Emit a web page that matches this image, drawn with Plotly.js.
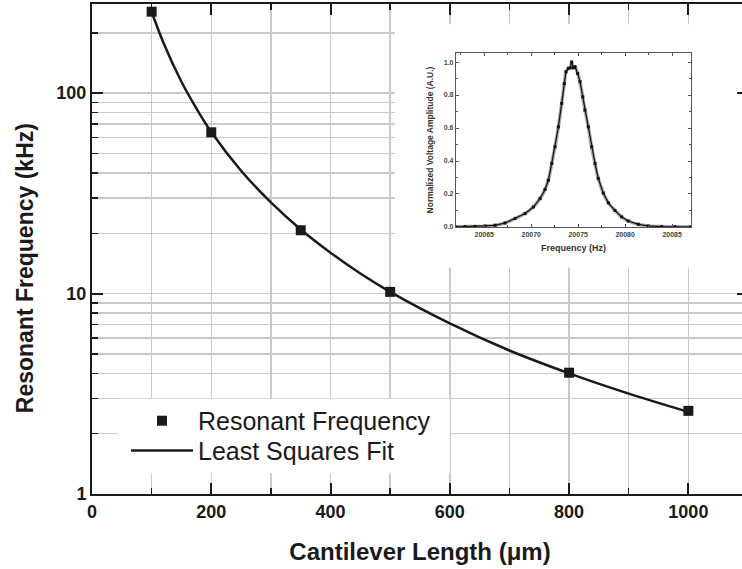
<!DOCTYPE html>
<html>
<head>
<meta charset="utf-8">
<script src="https://cdn.plot.ly/plotly-3.0.1.min.js"></script>
<style>
html,body{margin:0;padding:0;overflow:hidden;background:#fff;}
#chart{width:756px;height:569px;}
</style>
</head>
<body>
<div id="chart"></div>
<script>
// Main data: cantilever length (um) vs resonant frequency (kHz)
const lengths = [100, 200, 350, 500, 800, 1000];
const freqs = [255, 63.8, 20.7, 10.2, 4.03, 2.60];

// Least squares fit curve
const fitLengths = [100, 120, 150, 175, 200, 250, 300, 350, 400, 450, 500, 600, 700, 800, 900, 1000];
const fitFreqs = [255, 178, 114, 84, 64, 41, 28.5, 20.9, 16.0, 12.6, 10.2, 7.1, 5.2, 4.0, 3.17, 2.57];

// Inset: normalized voltage amplitude vs frequency (Hz)
const insetFreq = [20062.0, 20062.96, 20064.02, 20065.09, 20066.15, 20067.21, 20068.28, 20069.34,
  20070.23, 20070.94, 20071.47, 20071.82, 20072.18, 20072.53, 20072.89, 20073.24, 20073.52,
  20073.70, 20073.95, 20074.15, 20074.30, 20074.48, 20074.66, 20074.94, 20075.19, 20075.48,
  20075.72, 20076.08, 20076.43, 20076.79, 20077.14, 20077.67, 20078.21, 20078.91, 20079.62,
  20080.33, 20081.40, 20082.46, 20083.88, 20085.30, 20087.0];
const insetAmp = [0.0, 0.002, 0.003, 0.005, 0.010, 0.024, 0.051, 0.081,
  0.121, 0.172, 0.227, 0.283, 0.385, 0.486, 0.607, 0.749, 0.870,
  0.941, 0.962, 0.965, 1.0, 0.965, 0.972, 0.931, 0.881, 0.789,
  0.709, 0.607, 0.486, 0.385, 0.294, 0.206, 0.146, 0.100, 0.061,
  0.036, 0.016, 0.006, 0.002, 0.001, 0.0];

// Tick labels
const xTickVals = [0, 200, 400, 600, 800, 1000];
const yTickVals = [1, 10, 100];
const insetXTicks = [20065, 20070, 20075, 20080, 20085];

const FONT = '"Liberation Sans", Arial, Helvetica, sans-serif';
const DARK = '#1a1a1a';
const GRID = '#cacaca';

const traces = [
  {
    x: fitLengths, y: fitFreqs, type: 'scatter', mode: 'lines',
    name: 'Least Squares Fit', legend: 'legend2',
    line: {color: DARK, width: 2.5, shape: 'spline'},
    xaxis: 'x', yaxis: 'y'
  },
  {
    x: lengths, y: freqs, type: 'scatter', mode: 'markers',
    name: 'Resonant Frequency', legend: 'legend',
    marker: {symbol: 'square', size: 10, color: DARK},
    xaxis: 'x', yaxis: 'y'
  },
  {
    x: insetFreq, y: insetAmp, type: 'scatter', mode: 'lines',
    line: {color: '#a8a8a8', width: 3.5, shape: 'spline'},
    xaxis: 'x2', yaxis: 'y2', showlegend: false
  },
  {
    x: insetFreq, y: insetAmp, type: 'scatter', mode: 'lines+markers',
    line: {color: '#111', width: 1.2},
    marker: {symbol: 'square', size: 3, color: '#111'},
    xaxis: 'x2', yaxis: 'y2', showlegend: false
  }
];

const legendCommon = {
  xanchor: 'left', yanchor: 'top', itemwidth: 62,
  bgcolor: 'rgba(0,0,0,0)', borderwidth: 0,
  font: {family: FONT, size: 25, color: DARK}
};

const layout = {
  width: 756, height: 569,
  margin: {l: 92, r: 8, t: 4, b: 75},
  paper_bgcolor: '#fff', plot_bgcolor: '#fff',
  font: {family: FONT, color: DARK},
  showlegend: true,
  legend: Object.assign({x: 0.0518, y: 0.196}, legendCommon),
  legend2: Object.assign({x: 0.0518, y: 0.135}, legendCommon),
  xaxis: {
    range: [0, 1100], tickvals: xTickVals, ticktext: xTickVals.map(String),
    showline: true, linecolor: DARK, linewidth: 2, mirror: 'ticks',
    ticks: 'inside', ticklen: 11, tickwidth: 2, tickcolor: DARK,
    showgrid: true, gridcolor: GRID, gridwidth: 1.5, zeroline: false,
    tickfont: {family: FONT, size: 18, weight: 'bold', color: DARK},
    minor: {dtick: 100, tick0: 0, ticks: 'inside', ticklen: 6, tickwidth: 1.5, tickcolor: DARK,
            showgrid: true, gridcolor: GRID, gridwidth: 1.5},
    title: {text: 'Cantilever Length (μm)', font: {family: FONT, size: 24, weight: 'bold', color: DARK}, standoff: 23}
  },
  yaxis: {
    type: 'log', range: [0, 2.445], tickvals: yTickVals, ticktext: yTickVals.map(String),
    showline: true, linecolor: DARK, linewidth: 2, mirror: 'ticks',
    ticks: 'inside', ticklen: 11, tickwidth: 2, tickcolor: DARK,
    showgrid: true, gridcolor: GRID, gridwidth: 1.5, zeroline: false,
    tickfont: {family: FONT, size: 18, weight: 'bold', color: DARK},
    minor: {dtick: 'D1', ticks: 'inside', ticklen: 6, tickwidth: 1.5, tickcolor: DARK,
            showgrid: true, gridcolor: GRID, gridwidth: 1.5}
  },
  xaxis2: {
    domain: [0.555, 0.913], anchor: 'y2', range: [20062, 20087],
    tickvals: insetXTicks, ticktext: insetXTicks.map(String),
    showline: true, linecolor: '#555', linewidth: 1.2, mirror: 'ticks',
    ticks: 'inside', ticklen: 3, tickwidth: 1, tickcolor: '#555',
    minor: {dtick: 2.5, tick0: 20065, ticks: 'inside', ticklen: 2, tickcolor: '#555'},
    showgrid: false, zeroline: false,
    tickfont: {family: FONT, size: 7, weight: 'bold', color: '#444'},
    title: {text: 'Frequency (Hz)', font: {family: FONT, size: 9, weight: 'bold', color: '#333'}, standoff: 8}
  },
  yaxis2: {
    domain: [0.545, 0.9], anchor: 'x2', range: [0, 1.055],
    dtick: 0.2, tick0: 0, tickformat: '.1f',
    showline: true, linecolor: '#555', linewidth: 1.2, mirror: 'ticks',
    ticks: 'inside', ticklen: 3, tickwidth: 1, tickcolor: '#555',
    minor: {dtick: 0.1, ticks: 'inside', ticklen: 2, tickcolor: '#555'},
    showgrid: false, zeroline: false,
    tickfont: {family: FONT, size: 7, weight: 'bold', color: '#444'},
    title: {text: 'Normalized Voltage Amplitude (A.U.)', font: {family: FONT, size: 8.5, weight: 'bold', color: '#333'}, standoff: 8}
  },
  annotations: [
    {text: 'Resonant Frequency (kHz)', xref: 'paper', yref: 'paper',
     x: -0.102, y: 0.461, xanchor: 'center', yanchor: 'middle', textangle: -90,
     showarrow: false, font: {family: FONT, size: 23, weight: 'bold', color: DARK}}
  ],
  shapes: [
    // white panel behind inset (covers main grid)
    {type: 'rect', xref: 'x', yref: 'y', x0: 508, x1: 1100, y0: 13.5, y1: 221,
     fillcolor: '#fff', line: {width: 0}, layer: 'between'},
    // white panel behind legend
    {type: 'rect', xref: 'x', yref: 'y', x0: 44, x1: 600, y0: 1.27, y1: 2.985,
     fillcolor: '#fff', line: {width: 0}, layer: 'between'}
  ]
};

Plotly.newPlot('chart', traces, layout, {displayModeBar: false, staticPlot: true});
</script>
</body>
</html>
